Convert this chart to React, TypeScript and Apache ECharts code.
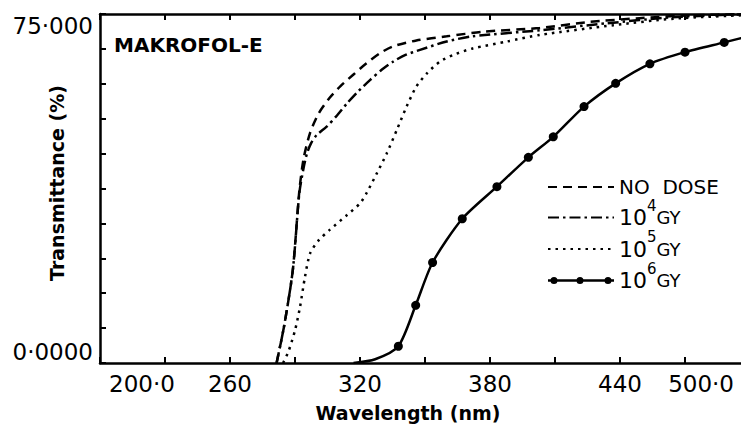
import React, { useEffect, useRef } from "react";
import * as echarts from "echarts";

// ---- data (wavelength nm, transmittance %) ----
const xTickLabels: Record<number, string> = {
  200: "200·0",
  260: "260",
  320: "320",
  380: "380",
  440: "440",
  500: "500·0",
};
const yTickLabels: Record<number, string> = { 0: "0·0000", 75: "75·000" };

const seriesNames = ["NO DOSE", "1E4GY", "1E5GY", "1E6GY"];

const noDose: number[][] = [
  [281.5, 0], [285, 8], [289, 20], [292, 37], [294, 44], [297, 49.5], [301, 53.7],
  [306, 57], [311, 59.5], [317, 62], [323, 64.4], [329, 66.5], [335, 68], [346, 69.3],
  [360, 70.2], [377, 71.2], [403, 72], [426, 73.3], [449, 74.1], [472, 74.7], [500, 75],
];
const dose1e4: number[][] = [
  [281.5, 0], [285, 8], [289, 20], [292, 36.5], [294, 42], [295.5, 45], [297.5, 47.3],
  [300, 49], [304.6, 50.8], [309, 53], [314, 55.8], [319, 58.3], [324.6, 60.8], [330, 63],
  [335.4, 64.8], [341, 66.2], [347.7, 67.3], [360, 69.1], [372, 70.2], [403, 71.5],
  [434, 73], [464, 74.3], [500, 75],
];
const dose1e5: number[][] = [
  [284.5, 0], [287, 2.5], [290, 7], [292.3, 12], [294.6, 18.5], [297, 23.6], [301, 26.4],
  [306, 28.6], [314, 31.8], [320, 34.3], [323, 36.5], [327.7, 40.7], [332.3, 45],
  [337, 50.1], [341.5, 55.1], [346, 59.4], [351, 62.3], [357, 64.8], [363, 66.2],
  [372, 67.6], [388, 69.1], [403, 70.5], [437, 72.6], [465, 74], [500, 74.8],
];
const dose1e6Lead: number[][] = [[317, 0], [327, 0.8]];
const dose1e6Marks: number[][] = [
  [337.7, 3.6], [345.7, 12.4], [353.5, 21.6], [367.2, 31.0], [383.2, 37.9], [397.7, 44.2],
  [409.2, 48.6], [423.4, 55.1], [438, 60.1], [453.8, 64.3], [470, 66.8], [488.1, 68.9],
];
const dose1e6Tail: number[][] = [[500, 70.3]];

const FONT = "DejaVu Sans";

// legend icon for the marked line: a bar with three dots
const markedLineIcon =
  "path://M0 3.25 H66 V5.75 H0 Z " +
  "M2.5 4.5 A3.5 3.5 0 1 1 9.5 4.5 A3.5 3.5 0 1 1 2.5 4.5 Z " +
  "M28.5 4.5 A3.5 3.5 0 1 1 35.5 4.5 A3.5 3.5 0 1 1 28.5 4.5 Z " +
  "M56.5 4.5 A3.5 3.5 0 1 1 63.5 4.5 A3.5 3.5 0 1 1 56.5 4.5 Z";

export default function App() {
  const ref = useRef<HTMLDivElement>(null);
  useEffect(() => {
    if (!ref.current) return;
    document.body.style.margin = "0";
    document.body.style.overflow = "hidden";
    const chart = echarts.init(ref.current, undefined, { renderer: "svg" });

    const dose1e6Data = [
      ...dose1e6Lead.map((p) => ({ value: p, symbol: "none" })),
      ...dose1e6Marks.map((p) => ({ value: p })),
      ...dose1e6Tail.map((p) => ({ value: p, symbol: "none" })),
    ];

    const legendLabel: Record<string, string> = {
      "NO DOSE": "{t|NO  DOSE}",
      "1E4GY": "{n|10}{s|4}{g|GY}",
      "1E5GY": "{n|10}{s|5}{g|GY}",
      "1E6GY": "{n|10}{s|6}{g|GY}",
    };

    const axisCommon = {
      type: "value" as const,
      axisLine: { show: true, onZero: false, lineStyle: { color: "#000", width: 2.5 } },
      axisTick: { show: true, inside: true, length: 6, lineStyle: { color: "#000", width: 2 } },
      splitLine: { show: false },
    };

    const option: any = {
      animation: false,
      backgroundColor: "#fff",
      grid: { left: 100, right: 0, top: 14, bottom: 69 },
      xAxis: [
        {
          ...axisCommon,
          position: "bottom",
          min: 200,
          max: 500,
          interval: 30,
          axisLabel: {
            margin: 9,
            color: "#000",
            fontFamily: FONT,
            fontSize: 23,
            alignMinLabel: "left",
            alignMaxLabel: "right",
            formatter: (v: number) => {
              const k = Math.round(v);
              const s = xTickLabels[k];
              if (!s) return "";
              if (k === 200) return "{a|" + s + "}";
              if (k === 500) return "{b|" + s + "}";
              return s;
            },
            rich: {
              a: { fontFamily: FONT, fontSize: 23, color: "#000", padding: [0, 0, 0, 9] },
              b: { fontFamily: FONT, fontSize: 23, color: "#000", padding: [0, 16, 0, 0] },
            },
          },
        },
        {
          ...axisCommon,
          position: "top",
          min: 200,
          max: 500,
          interval: 30,
          axisLabel: { show: false },
        },
      ],
      yAxis: {
        ...axisCommon,
        min: 0,
        max: 75,
        interval: 7.5,
        axisLabel: {
          margin: 7,
          color: "#000",
          fontFamily: FONT,
          fontSize: 23,
          verticalAlignMinLabel: "bottom",
          verticalAlignMaxLabel: "top",
          formatter: (v: number) => yTickLabels[Math.round(v * 1000) / 1000] ?? "",
        },
      },
      legend: {
        orient: "vertical",
        left: 547,
        top: 177,
        itemWidth: 66,
        itemHeight: 9,
        itemGap: 1,
        padding: 0,
        data: seriesNames.map((n, i) =>
          i < 3 ? { name: n, itemStyle: { opacity: 0 } } : { name: n, icon: markedLineIcon }
        ),
        formatter: (name: string) => legendLabel[name],
        textStyle: {
          color: "#000",
          fontFamily: FONT,
          rich: {
            t: { fontFamily: FONT, fontSize: 20, lineHeight: 39, color: "#000" },
            n: { fontFamily: FONT, fontSize: 22, lineHeight: 39, color: "#000" },
            s: { fontFamily: FONT, fontSize: 15, lineHeight: 15, verticalAlign: "top", color: "#000" },
            g: { fontFamily: FONT, fontSize: 18, lineHeight: 39, color: "#000" },
          },
        },
      },
      graphic: [
        {
          type: "text",
          left: 114,
          top: 35,
          style: { text: "MAKROFOL-E", fontFamily: FONT, fontSize: 20, fontWeight: "bold", fill: "#000" },
        },
        {
          type: "text",
          x: 57,
          y: 183,
          rotation: Math.PI / 2,
          style: {
            text: "Transmittance (%)",
            fontFamily: FONT,
            fontSize: 19,
            fontWeight: "bold",
            fill: "#000",
            align: "center",
            verticalAlign: "middle",
          },
        },
        {
          type: "text",
          x: 408,
          y: 413,
          style: {
            text: "Wavelength (nm)",
            fontFamily: FONT,
            fontSize: 19,
            fontWeight: "bold",
            fill: "#000",
            align: "center",
            verticalAlign: "middle",
          },
        },
      ],
      series: [
        {
          name: "NO DOSE",
          type: "line",
          data: noDose,
          smooth: 0.25,
          symbol: "none",
          lineStyle: { color: "#000", width: 2.5, type: [9, 6] },
          itemStyle: { color: "#000" },
        },
        {
          name: "1E4GY",
          type: "line",
          data: dose1e4,
          smooth: 0.25,
          symbol: "none",
          lineStyle: { color: "#000", width: 2.5, type: [11, 4, 2.5, 4] },
          itemStyle: { color: "#000" },
        },
        {
          name: "1E5GY",
          type: "line",
          data: dose1e5,
          smooth: 0.25,
          symbol: "none",
          lineStyle: { color: "#000", width: 2.5, type: [2.5, 5] },
          itemStyle: { color: "#000" },
        },
        {
          name: "1E6GY",
          type: "line",
          data: dose1e6Data,
          smooth: 0.25,
          symbol: "circle",
          symbolSize: 9,
          lineStyle: { color: "#000", width: 2.5 },
          itemStyle: { color: "#000" },
        },
      ],
    };
    chart.setOption(option);
    return () => chart.dispose();
  }, []);

  return (
    <div
      ref={ref}
      style={{ position: "fixed", left: 0, top: 0, width: 750, height: 432, background: "#fff" }}
    />
  );
}
